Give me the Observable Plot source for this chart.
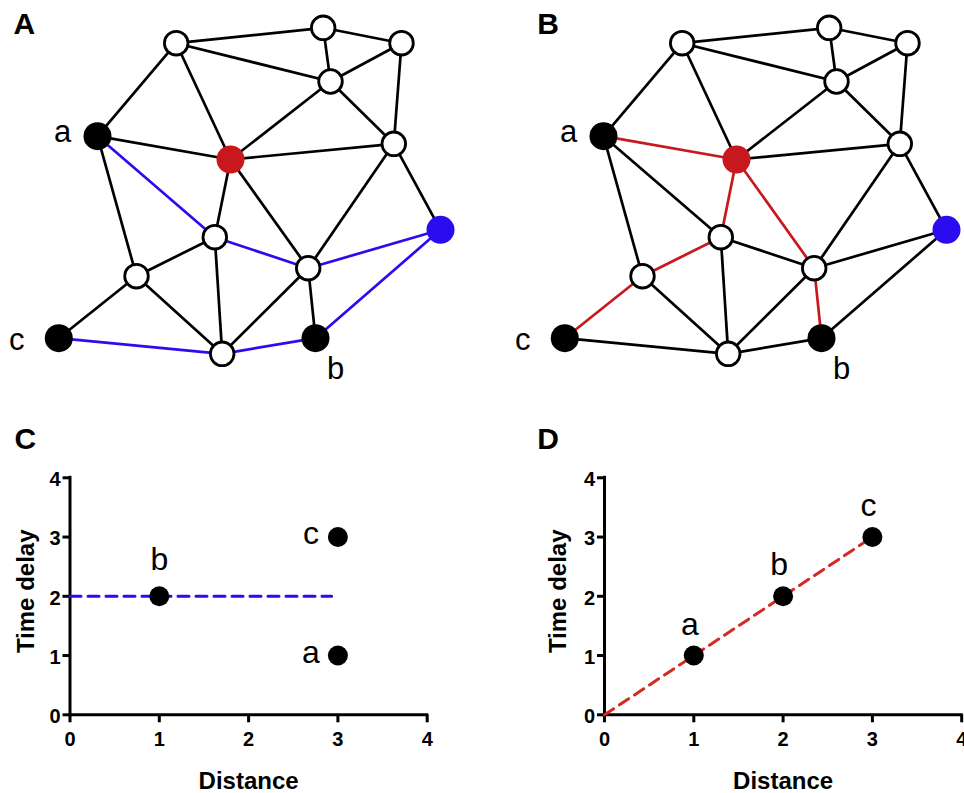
<!DOCTYPE html>
<html><head><meta charset="utf-8">
<script src="https://cdn.jsdelivr.net/npm/d3@7"></script>
<script src="https://cdn.jsdelivr.net/npm/@observablehq/plot@0.6"></script>
<style>
html,body{margin:0;padding:0;background:#fff;overflow:hidden;}
#fig{position:relative;width:964px;height:793px;overflow:hidden;background:#fff;}
#fig > svg{position:absolute;}
</style></head><body><div id="fig"></div>
<script>
// ---------- network data (layout coordinates of the graph) ----------
const nodeNames = ["n1","n2","n3","n4","a","hub","n7","src","n9","n10","n11","c","n13","b"];
const nodeX = [175.7, 322.7, 401, 330, 97, 230, 393.3, 440, 214.3, 307.7, 136, 58.3, 221.7, 315];
const nodeY = [42.7, 27.3, 42.7, 81, 135.7, 159, 143.3, 229.3, 236.7, 267.7, 275.7, 337.7, 353.3, 337.7];
const nodeRole = ["plain","plain","plain","plain","probe","hub","plain","source","plain","plain","plain","probe","plain","probe"];
const nodeLabel = ["","","","","a","","","","","","","c","","b"];

const edgeFrom = ["n1","n2","n1","n2","n3","n1","n1","n4","n4","n3","a","hub","a","a","hub","hub","n7","n7","n9","n9","n9","n10","n11","n11","n10","n10","c","n13","b"];
const edgeTo   = ["n2","n3","n4","n4","n4","a","hub","hub","n7","n7","hub","n7","n9","n11","n9","n10","n10","src","n10","n11","n13","src","c","n13","n13","b","n13","b","src"];

// highlighted paths
const pathAFrom = ["a","n9","n10","c","n13","b"];
const pathATo   = ["n9","n10","src","n13","b","src"];
const pathBFrom = ["a","hub","hub","n9","n11","n10"];
const pathBTo   = ["hub","n9","n10","n11","c","b"];

// ---------- scatter data ----------
const pointNames = ["a","b","c"];
const distanceC = [3, 1, 3];
const delayC    = [1, 2, 3];
const distanceD = [1, 2, 3];
const delayD    = [1, 2, 3];
const fitCx = [0, 2.93], fitCy = [2, 2];
const fitDx = [0, 3],    fitDy = [0, 3];
const axisTicks = [0, 1, 2, 3, 4];

// ---------- styles ----------
const BLUE = "#2a0cef", RED = "#c8181d", REDLINE = "#d42a20";
const roleFill = {plain: "white", probe: "black", hub: RED, source: BLUE};
const nodeLabelOffset = {a: [-35, 6], b: [20, 41], c: [-42, 12]};
const FONT = "'Liberation Sans', Arial, Helvetica, sans-serif";

const fig = document.getElementById("fig");

function network(panel, left, panelDx, pFrom, pTo, pathColor) {
  const idx = n => nodeNames.indexOf(n);
  const key = (a, b) => [a, b].sort().join("|");
  const onPath = new Set(pFrom.map((f, i) => key(f, pTo[i])));
  const edges = edgeFrom.map((f, i) => ({
    x1: nodeX[idx(f)], y1: nodeY[idx(f)],
    x2: nodeX[idx(edgeTo[i])], y2: nodeY[idx(edgeTo[i])],
    hl: onPath.has(key(f, edgeTo[i]))
  }));
  const nodes = nodeNames.map((n, i) => ({name: n, x: nodeX[i], y: nodeY[i], role: nodeRole[i], label: nodeLabel[i]}));
  const W = 964 - left < 482 ? 964 - left : 482;
  const labelMarks = nodes.filter(d => d.label).map(d => Plot.text([d], {
    x: "x", y: "y", text: "label", dx: nodeLabelOffset[d.label][0], dy: nodeLabelOffset[d.label][1],
    lineAnchor: "bottom", textAnchor: "middle", fontSize: 31, fill: "black"
  }));
  const svg = Plot.plot({
    width: W, height: 390, margin: 0,
    x: {domain: [0, W], range: [0, W], axis: null},
    y: {domain: [0, 390], range: [0, 390], axis: null},
    style: {fontFamily: FONT, background: "transparent"},
    marks: [
      Plot.link(edges.filter(d => !d.hl), {x1: "x1", y1: "y1", x2: "x2", y2: "y2", stroke: "black", strokeWidth: 2.7}),
      Plot.link(edges.filter(d => d.hl), {x1: "x1", y1: "y1", x2: "x2", y2: "y2", stroke: pathColor, strokeWidth: 2.7}),
      Plot.dot(nodes.filter(d => d.role === "plain"), {x: "x", y: "y", r: 11.8, fill: "white", stroke: "black", strokeWidth: 2.8}),
      Plot.dot(nodes.filter(d => d.role !== "plain"), {x: "x", y: "y", r: 14, fill: d => roleFill[d.role]}),
      ...labelMarks,
      Plot.text([panel], {text: d => d, frameAnchor: "top-left", dx: panelDx, dy: 12, lineAnchor: "top", textAnchor: "start", fontSize: 30, fontWeight: "bold"})
    ]
  });
  svg.style.left = left + "px";
  svg.style.top = "0px";
  fig.appendChild(svg);
}

function scatter(o) {
  const pts = pointNames.map((n, i) => ({name: n, x: o.xs[i], y: o.ys[i]}));
  const fit = o.fitX.map((x, i) => ({x, y: o.fitY[i]}));
  const labelMarks = Object.entries(o.placement).map(([side, pl]) => Plot.text(pts.filter(d => o.side[d.name] === side), {
    x: "x", y: "y", text: "name", dx: pl[0], dy: pl[1], lineAnchor: "bottom", textAnchor: "middle", fontSize: 32, fill: "black"
  }));
  const svg = Plot.plot({
    width: 482, height: 403,
    marginLeft: o.marginLeft, marginRight: o.marginRight, marginTop: 87.3, marginBottom: 78.7,
    x: {domain: [0, 4], label: null},
    y: {domain: [0, 4], label: null},
    style: {fontFamily: FONT, background: "transparent", color: "black"},
    marks: [
      Plot.ruleX([0], {stroke: "black", strokeWidth: 3, strokeLinecap: "square"}),
      Plot.ruleY([0], {stroke: "black", strokeWidth: 3, strokeLinecap: "square"}),
      Plot.axisX({ticks: axisTicks, tickSize: 8, strokeWidth: 3, text: null, label: null}),
      Plot.axisY({ticks: axisTicks, tickSize: 7, strokeWidth: 3, text: null, label: null}),
      Plot.text(axisTicks, {x: d => d, frameAnchor: "bottom", text: d => String(d), dy: 17.4, lineAnchor: "top", textAnchor: "middle", fontSize: 20, fontWeight: "bold"}),
      Plot.text(axisTicks, {y: d => d, frameAnchor: "left", text: d => String(d), dx: -9.5, dy: 2, lineAnchor: "middle", textAnchor: "end", fontSize: 20, fontWeight: "bold"}),
      Plot.line(fit, {x: "x", y: "y", stroke: o.fitColor, strokeWidth: 3, strokeDasharray: "11,7"}),
      Plot.dot(pts, {x: "x", y: "y", r: 10, fill: "black"}),
      ...labelMarks,
      Plot.text(["Distance"], {text: d => d, frameAnchor: "bottom", dy: 74, lineAnchor: "bottom", textAnchor: "middle", fontSize: 24, fontWeight: "bold"}),
      Plot.text(["Time delay"], {text: d => d, frameAnchor: "left", rotate: -90, dx: o.titleDx, dy: -5, lineAnchor: "top", textAnchor: "middle", fontSize: 24, fontWeight: "bold"}),
      Plot.text([o.panel], {text: d => d, frameAnchor: "top-left", dx: o.panelDx, dy: -50.3, lineAnchor: "top", textAnchor: "start", fontSize: 30, fontWeight: "bold"})
    ]
  });
  svg.style.left = o.left + "px";
  svg.style.top = "390px";
  fig.appendChild(svg);
}

network("A", 0, 13, pathAFrom, pathATo, BLUE);
network("B", 506, 30.7, pathBFrom, pathBTo, RED);

scatter({
  panel: "C", left: 0, marginLeft: 69.5, marginRight: 55.3, panelDx: -55.5, titleDx: -52.8,
  xs: distanceC, ys: delayC, fitX: fitCx, fitY: fitCy, fitColor: BLUE,
  side: {a: "left", b: "above", c: "left"},
  placement: {above: [0, -26], left: [-27, 7]}
});
scatter({
  panel: "D", left: 482, marginLeft: 122, marginRight: 2.8, panelDx: -67.3, titleDx: -55.7,
  xs: distanceD, ys: delayD, fitX: fitDx, fitY: fitDy, fitColor: REDLINE,
  side: {a: "above", b: "above", c: "above"},
  placement: {above: [-4, -21]}
});
</script></body></html>
